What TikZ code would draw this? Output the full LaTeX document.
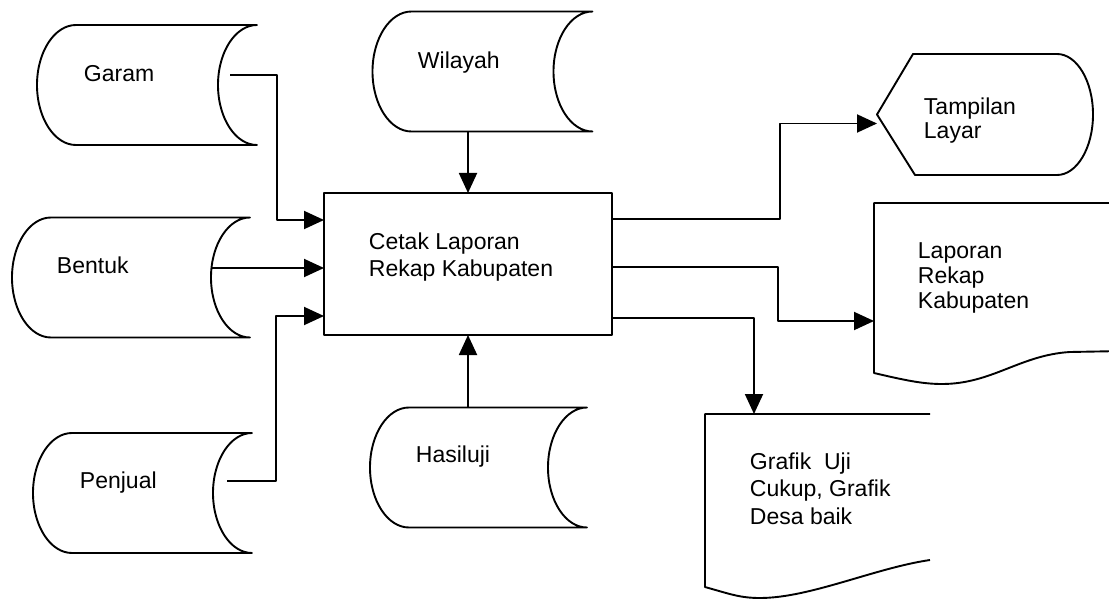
\documentclass[tikz,border=0pt]{standalone}
\usepackage{fontspec}
\setmainfont{Liberation Sans}
\usetikzlibrary{arrows.meta,calc}
\begin{document}
\begin{tikzpicture}[x=1pt,y=-1pt,
  line width=1.9pt, line join=round,
  flow/.style={-{Triangle[length=20pt,width=18pt]}},
  store/.style={minimum width=#1, minimum height=120pt, inner sep=0pt, outer sep=0pt},
  frame/.style={minimum width=#1, inner sep=0pt, outer sep=0pt},
  txt/.style={inner sep=0pt, align=left, anchor=north west},
]
\useasboundingbox (0,0) rectangle (1109,599);

% data stores
\node[store=220pt] (garam)   at (147,85)    {};
\node[store=220pt] (wilayah) at (482.5,71.5) {};
\node[store=238pt] (bentuk)  at (131,277.5) {};
\node[store=219pt] (penjual) at (142.5,493) {};
\node[store=217pt] (hasil)   at (478.5,467.5) {};

\foreach \n in {garam,wilayah,bentuk,penjual,hasil}
  \draw ($(\n.north west)+(39,0)$)
        arc[start angle=90,end angle=270,x radius=39pt,y radius=60pt]
        -- (\n.south east)
        arc[start angle=270,end angle=90,x radius=39pt,y radius=60pt]
        -- cycle;

\node[txt,anchor=base west,font=\fontsize{23}{27}\selectfont] (garamtxt)   at (83,82)  {Garam};
\node[txt,anchor=base west,font=\fontsize{23}{27}\selectfont] (wilayahtxt) at (417,69) {Wilayah};
\node[txt,anchor=base west,font=\fontsize{23}{27}\selectfont] (bentuktxt)  at (56,273) {Bentuk};
\node[txt,anchor=base west,font=\fontsize{23}{27}\selectfont] (penjualtxt) at (79,488) {Penjual};
\node[txt,anchor=base west,font=\fontsize{23}{27}\selectfont] (hasiltxt)   at (415,462) {Hasiluji};

% process
\node[draw,frame=288pt,minimum height=142pt] (proc) at (468,264) {};
\node[txt,font=\fontsize{23}{27}\selectfont] (proctxt) at (368,231.5)
  {Cetak Laporan\\Rekap Kabupaten};

% display
\node[frame=216pt,minimum height=121pt] (disp) at (985,114.5) {};
\draw (disp.west) -- ($(disp.north west)+(36,0)$)
      -- ($(disp.north east)+(-36,0)$)
      arc[start angle=90,end angle=-90,x radius=36pt,y radius=60.5pt]
      -- ($(disp.south west)+(38,0)$) -- cycle;
\node[txt,font=\fontsize{23}{24}\selectfont] (disptxt) at (923,96.5)
  {Tampilan\\Layar};

% report documents
\node[frame=235pt,minimum height=170pt] (lap) at (991.5,288) {};
\draw ($(lap.north east)+(15,0)$) -- (lap.north west) -- (lap.south west)
      .. controls +(30,7) and +(-20,0) .. ($(lap.south west)+(68,11)$)
      .. controls +(50,0) and +(-50,3) .. ($(lap.south west)+(196,-21)$)
      -- ($(lap.south west)+(250,-22)$);
\node[txt,font=\fontsize{23}{25}\selectfont] (laptxt) at (917,241.5)
  {Laporan\\Rekap\\Kabupaten};

\node[frame=225pt,minimum height=173pt] (graf) at (817.5,500.5) {};
\draw (graf.north east) -- (graf.north west) -- (graf.south west)
      .. controls +(25,7) and +(-20,0) .. ($(graf.south west)+(55,11)$)
      .. controls +(50,0) and +(-55,8) .. ($(graf.south west)+(225,-27)$);
\node[txt,font=\fontsize{23}{27.5}\selectfont] (graftxt) at (749,451.5)
  {Grafik\ \ Uji\\Cukup, Grafik\\Desa baik};

% data flows into the process
\draw[flow] ($(garam.east)+(-27,-10)$) -- ++(47,0) |- ($(proc.west)+(0,-44)$);
\draw[flow] ($(bentuk.east)+(-38,-9.5)$) -- ($(proc.west)+(0,4)$);
\draw[flow] ($(penjual.east)+(-25,-12)$) -- ++(49,0) |- ($(proc.west)+(0,52)$);
\draw[flow] (proc.north |- wilayah.south) -- (proc.north);
\draw[flow] (proc.south |- hasil.north) -- (proc.south);

% outputs
\draw[flow] ($(proc.east)+(0,-45)$) -- ++(168,0) |- ($(disp.west)+(0,9)$);
\draw[flow] ($(proc.east)+(0,3)$) -- ++(166,0) |- ($(lap.west)+(0,33)$);
\draw[flow] ($(proc.east)+(0,54)$) -| ($(graf.north west)+(49,0)$);
\end{tikzpicture}
\end{document}
